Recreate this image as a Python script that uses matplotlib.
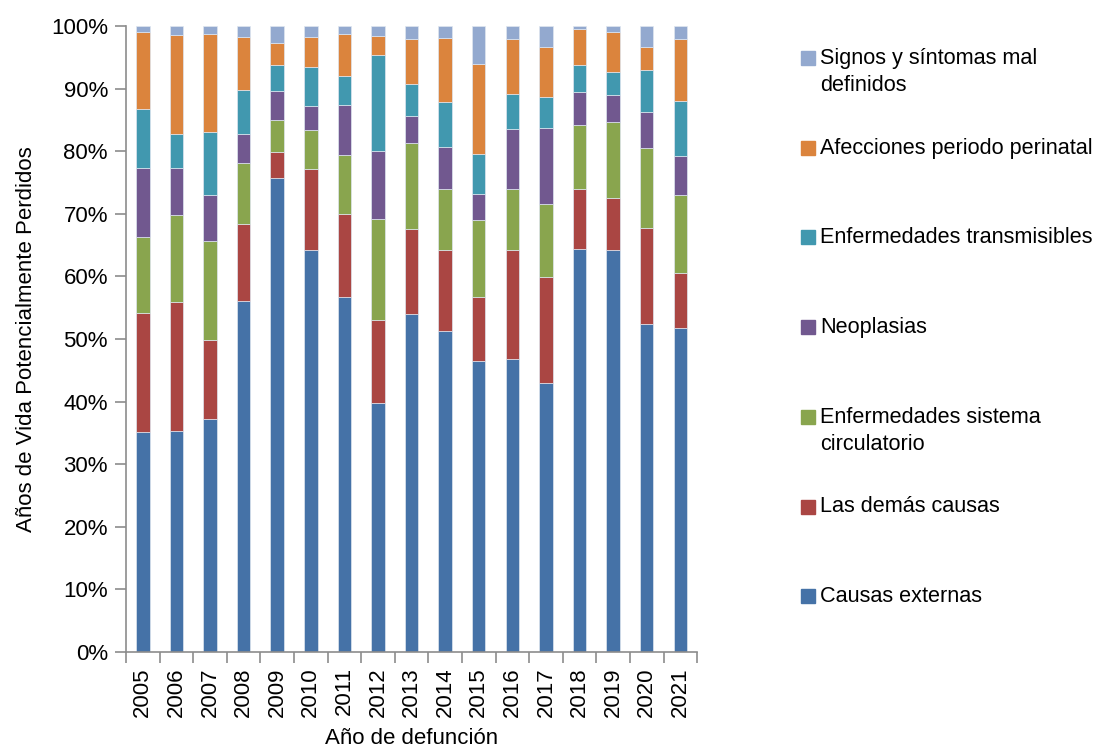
import numpy as np
import matplotlib.pyplot as plt
from matplotlib.patches import Rectangle
from matplotlib.ticker import PercentFormatter

plt.rcParams['font.family'] = ['Liberation Sans', 'DejaVu Sans']

years = ['2005', '2006', '2007', '2008', '2009', '2010', '2011', '2012', '2013',
         '2014', '2015', '2016', '2017', '2018', '2019', '2020', '2021']

causas_externas = [35.2, 35.3, 37.2, 56.0, 75.8, 64.2, 56.7, 39.8, 54.0, 51.3, 46.5, 46.8, 43.0, 64.4, 64.2, 52.4, 51.7]
demas_causas = [19.0, 20.6, 12.7, 12.3, 4.1, 13.0, 13.2, 13.3, 13.6, 13.0, 10.2, 17.4, 16.9, 9.5, 8.4, 15.3, 8.9]
circulatorio = [12.1, 13.9, 15.8, 9.9, 5.1, 6.2, 9.5, 16.1, 13.7, 9.7, 12.3, 9.8, 11.7, 10.3, 12.0, 12.8, 12.4]
neoplasias = [11.1, 7.5, 7.3, 4.6, 4.7, 3.9, 8.0, 10.8, 4.4, 6.6, 4.2, 9.5, 12.1, 5.2, 4.4, 5.7, 6.3]
transmisibles = [9.3, 5.5, 10.0, 7.0, 4.1, 6.2, 4.7, 15.3, 5.1, 7.3, 6.3, 5.7, 5.0, 4.4, 3.7, 6.8, 8.7]
perinatal = [12.4, 15.7, 15.8, 8.4, 3.5, 4.8, 6.7, 3.1, 7.2, 10.2, 14.5, 8.8, 7.9, 5.7, 6.3, 3.6, 10.0]
signos = [0.9, 1.5, 1.2, 1.8, 2.7, 1.7, 1.2, 1.6, 2.0, 1.9, 6.0, 2.0, 3.4, 0.5, 1.0, 3.4, 2.0]

series = [causas_externas, demas_causas, circulatorio, neoplasias, transmisibles, perinatal, signos]
labels = ['Causas externas', 'Las demás causas', 'Enfermedades sistema\ncirculatorio',
          'Neoplasias', 'Enfermedades transmisibles', 'Afecciones periodo perinatal',
          'Signos y síntomas mal\ndefinidos']
colors = ['#4572A7', '#AA4643', '#89A54E', '#71588F', '#4198AF', '#DB843D', '#93A9CF']

fs = 16

fig = plt.figure(figsize=(10.99, 7.51), dpi=100)
ax = fig.add_axes([0.1147, 0.1318, 0.5196, 0.8335])

x = np.arange(len(years))
bottom = np.zeros(len(years))
for vals, col in zip(series, colors):
    vals = np.array(vals)
    ax.bar(x, vals, 0.4, bottom=bottom, color=col, edgecolor='#dfe6f0', linewidth=0.5)
    bottom += vals

ax.set_xlim(-0.5, len(years) - 0.5)
ax.set_ylim(0, 100)
ax.set_yticks(np.arange(0, 101, 10))
ax.yaxis.set_major_formatter(PercentFormatter(decimals=0))
ax.set_xticks(x)
ax.set_xticklabels(years, rotation=90)
ax.set_xticks(np.arange(-0.5, len(years), 1), minor=True)
ax.tick_params(axis='x', which='major', length=0, pad=11, labelsize=fs)
ax.tick_params(axis='x', which='minor', length=8, color='#8c8c8c', width=1.2, direction='out')
ax.tick_params(axis='y', length=8, color='#8c8c8c', width=1.2, labelsize=fs, pad=5)
for s in ['top', 'right']:
    ax.spines[s].set_visible(False)
for s in ['left', 'bottom']:
    ax.spines[s].set_color('#8c8c8c')
    ax.spines[s].set_linewidth(1.2)

ax.set_ylabel('Años de Vida Potencialmente Perdidos', fontsize=fs, labelpad=10)
ax.set_xlabel('Año de defunción', fontsize=fs, labelpad=8)

# legend, reverse order, first text line aligned with the marker
W, H = 1099, 751
for i, (lab, col) in enumerate(zip(labels[::-1], colors[::-1])):
    yc = 58 + i * 89.7
    fig.patches.append(Rectangle((801 / W, 1 - (yc + 7) / H), 14 / W, 14 / H,
                                 transform=fig.transFigure, color=col))
    fig.text(820 / W, 1 - (yc - 10) / H, lab, fontsize=15.6, va='top', ha='left',
             linespacing=1.4)

fig.savefig('out.png', dpi=100)
